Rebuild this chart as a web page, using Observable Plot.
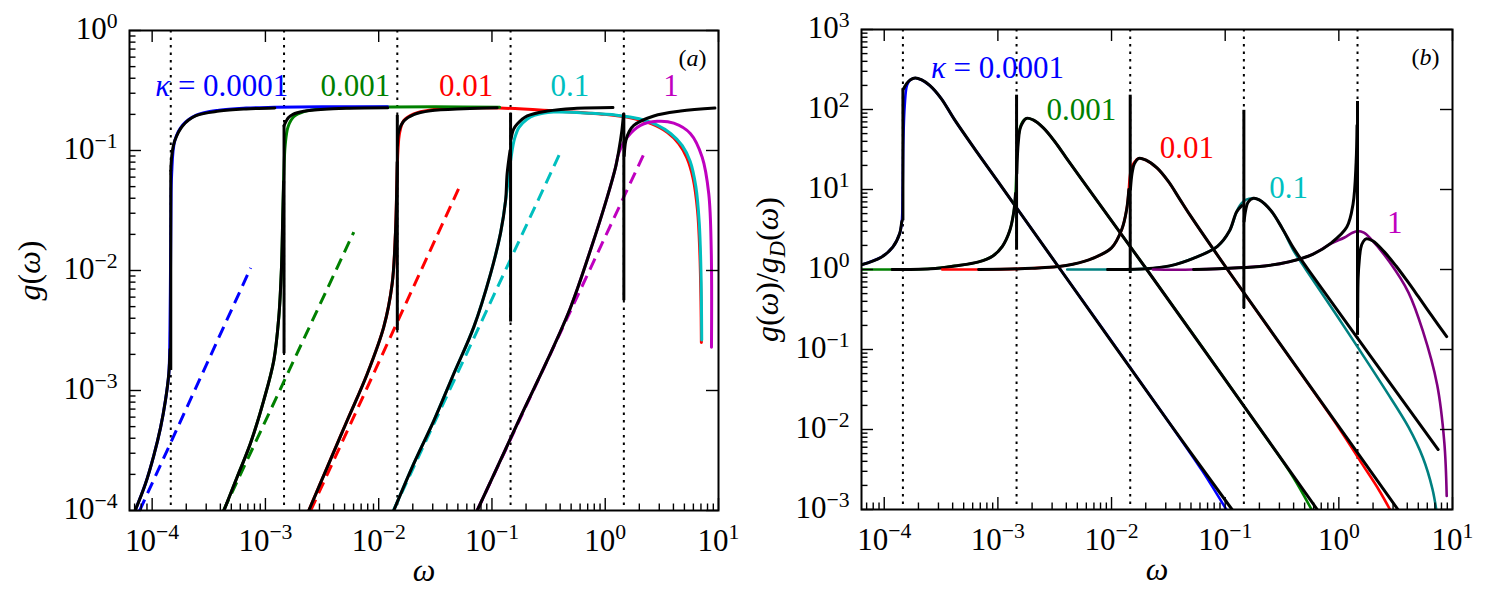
<!DOCTYPE html>
<html>
<head>
<meta charset="utf-8">
<script src="https://cdn.jsdelivr.net/npm/d3@7"></script>
<script src="https://cdn.jsdelivr.net/npm/@observablehq/plot@0.6"></script>
<style>
  html, body { margin: 0; padding: 0; background: #fff; }
  #fig { position: relative; width: 1486px; height: 603px; overflow: hidden; }
</style>
</head>
<body>
<div id="fig"></div>
<script>
// ---------- shared values ----------
const omegaC = [1.46e-4, 1.46e-3, 1.46e-2, 0.146, 1.46];
const kappaText = ["{i:κ} = 0.0001", "0.001", "0.01", "0.1", "1"];
const labelColors = ["#0000ff", "#008000", "#ff0000", "#00bfbf", "#bf00bf"];
const curveColorsB = ["#0000ff", "#008000", "#ff0000", "#008080", "#800080"];

const xTicks = [1e-4, 1e-3, 1e-2, 1e-1, 1e0, 1e1];
const xTickLabels = ["10{^:−4}", "10{^:−3}", "10{^:−2}", "10{^:−1}", "10{^:0}", "10{^:1}"];
const yTicksA = [1e-4, 1e-3, 1e-2, 1e-1, 1e0];
const yTickLabelsA = ["10{^:−4}", "10{^:−3}", "10{^:−2}", "10{^:−1}", "10{^:0}"];
const yTicksB = [1e-3, 1e-2, 1e-1, 1e0, 1e1, 1e2, 1e3];
const yTickLabelsB = ["10{^:−3}", "10{^:−2}", "10{^:−1}", "10{^:0}", "10{^:1}", "10{^:2}", "10{^:3}"];

// ---------- panel (a): g(ω) ----------
// numerical spectra [ω, g]
const numA0 = [[7.08e-5,1.0e-4],[8.71e-5,1.66e-4],[1.035e-4,2.88e-4],[1.186e-4,4.90e-4],[1.312e-4,8.32e-4],[1.403e-4,1.38e-3],[1.436e-4,3.16e-3],[1.452e-4,1.0e-2],[1.466e-4,3.16e-2],[1.486e-4,6.31e-2],[1.585e-4,0.121],[1.862e-4,0.163],[2.455e-4,0.197],[3.89e-4,0.217],[6.76e-4,0.226],[1.20e-3,0.229],[3.16e-3,0.231],[1.20e-2,0.231]];
const numA1 = [[4.30e-4,1.0e-4],[5.64e-4,1.91e-4],[7.38e-4,3.63e-4],[9.68e-4,8.32e-4],[1.186e-3,1.78e-3],[1.312e-3,4.07e-3],[1.387e-3,1.07e-2],[1.422e-3,2.75e-2],[1.452e-3,6.31e-2],[1.496e-3,0.112],[1.585e-3,0.158],[1.778e-3,0.191],[2.19e-3,0.211],[3.24e-3,0.223],[5.13e-3,0.227],[1.20e-2,0.230],[3.16e-2,0.231],[0.117,0.229]];
const numA2 = [[2.415e-3,1.0e-4],[3.51e-3,2.29e-4],[5.27e-3,5.62e-4],[7.93e-3,1.38e-3],[1.109e-2,3.39e-3],[1.315e-2,7.76e-3],[1.406e-2,2.04e-2],[1.445e-2,5.01e-2],[1.479e-2,0.100],[1.531e-2,0.141],[1.667e-2,0.178],[2.04e-2,0.202],[2.86e-2,0.218],[5.64e-2,0.226],[0.1175,0.226],[0.347,0.214],[1.0,0.200],[1.585,0.189],[2.51,0.168],[3.55,0.141],[4.47,0.1135],[5.25,0.0871],[5.96,0.0589],[6.53,0.0316],[6.84,0.0141],[7.00,5.62e-3],[7.06,2.51e-3]];
const numA3 = [[1.358e-2,1.0e-4],[2.04e-2,2.455e-4],[3.07e-2,5.62e-4],[4.60e-2,1.38e-3],[6.92e-2,3.39e-3],[9.70e-2,9.33e-3],[0.1189,2.04e-2],[0.1318,3.80e-2],[0.1413,6.31e-2],[0.1479,8.91e-2],[0.1585,0.126],[0.1734,0.156],[0.204,0.182],[0.2366,0.196],[0.349,0.209],[0.764,0.204],[1.259,0.197],[1.995,0.184],[2.82,0.164],[3.80,0.138],[4.79,0.1096],[5.62,0.0813],[6.31,0.0501],[6.76,0.0251],[7.00,0.0100],[7.11,2.63e-3]];
const numA4 = [[7.41e-2,1.0e-4],[0.1112,2.29e-4],[0.1786,6.03e-4],[0.3076,1.78e-3],[0.4932,4.90e-3],[0.741,1.48e-2],[1.040,4.07e-2],[1.233,7.24e-2],[1.318,9.55e-2],[1.563,0.129],[2.046,0.162],[2.877,0.175],[4.027,0.169],[5.662,0.138],[7.178,0.0879],[8.204,0.0436],[8.63,0.0147],[8.67,2.29e-3]];

// low-frequency Debye asymptotes [ω, g]
const debyeA0 = [[7.76e-5,1.0e-4],[7.41e-4,1.05e-2]];
const debyeA1 = [[4.27e-4,1.0e-4],[6.03e-3,2.09e-2]];
const debyeA2 = [[2.51e-3,1.0e-4],[5.18e-2,5.01e-2]];
const debyeA3 = [[1.35e-2,1.0e-4],[0.409,0.100]];
const debyeA4 = [[7.41e-2,1.0e-4],[2.27,0.100]];

// analytic curves: branch below ω_c, branch above ω_c, jump at ω_c
const leftA0 = [[7.08e-5,1.0e-4],[8.71e-5,1.66e-4],[1.035e-4,2.88e-4],[1.186e-4,4.90e-4],[1.312e-4,8.32e-4],[1.403e-4,1.38e-3],[1.44e-4,2.2e-3]];
const rightA0 = [[1.46e-4,6.8e-2],[1.50e-4,9.5e-2],[1.585e-4,0.121],[1.862e-4,0.161],[2.44e-4,0.195],[3.90e-4,0.213],[6.75e-4,0.222],[1.21e-3,0.226]];
const leftA1 = [[4.30e-4,1.0e-4],[5.64e-4,1.91e-4],[7.38e-4,3.63e-4],[9.68e-4,8.32e-4],[1.186e-3,1.78e-3],[1.312e-3,4.07e-3],[1.387e-3,1.07e-2],[1.422e-3,2.75e-2],[1.45e-3,5.5e-2]];
const rightA1 = [[1.46e-3,0.161],[1.60e-3,0.188],[1.75e-3,0.200],[2.18e-3,0.212],[3.30e-3,0.221],[5.50e-3,0.225],[1.20e-2,0.227]];
const leftA2 = [[2.415e-3,1.0e-4],[3.51e-3,2.29e-4],[5.27e-3,5.62e-4],[7.93e-3,1.38e-3],[1.109e-2,3.39e-3],[1.315e-2,7.76e-3],[1.406e-2,2.04e-2],[1.445e-2,5.0e-2],[1.457e-2,8.0e-2]];
const rightA2 = [[1.465e-2,0.110],[1.507e-2,0.145],[1.667e-2,0.176],[2.04e-2,0.199],[2.86e-2,0.214],[5.64e-2,0.223],[0.111,0.227]];
const leftA3 = [[1.358e-2,1.0e-4],[2.04e-2,2.455e-4],[3.07e-2,5.62e-4],[4.60e-2,1.38e-3],[6.92e-2,3.39e-3],[9.70e-2,9.33e-3],[0.1189,2.04e-2],[0.1318,3.80e-2],[0.1361,6.4e-2],[0.1445,0.100]];
const rightA3 = [[0.1475,0.125],[0.155,0.150],[0.167,0.166],[0.205,0.194],[0.308,0.213],[0.528,0.224],[1.17,0.228]];
const leftA4 = [[7.41e-2,1.0e-4],[0.1112,2.29e-4],[0.1786,6.03e-4],[0.3076,1.78e-3],[0.4932,4.90e-3],[0.741,1.48e-2],[1.040,4.07e-2],[1.233,7.24e-2],[1.318,0.100],[1.40,0.145],[1.45,0.200]];
const rightA4 = [[1.47,0.090],[1.52,0.121],[1.62,0.143],[1.786,0.162],[2.685,0.194],[4.62,0.213],[9.3,0.226]];
const jumpLoA = [1.47e-3, 2.02e-3, 3.16e-3, 3.72e-3, 5.6e-3];
const jumpHiA = [6.8e-2, 0.161, 0.196, 0.204, 0.202];

const kappaAtA = [[4.12e-4,0.282],[6.24e-3,0.282],[5.92e-2,0.282],[0.488,0.282],[3.80,0.282]];

// ---------- panel (b): g(ω)/g_D(ω) ----------
const numB0 = [[6.31e-5,1.148],[9.33e-5,1.413],[1.189e-4,1.905],[1.368e-4,2.818],[1.429e-4,3.98],[1.452e-4,10],[1.472e-4,39.8],[1.514e-4,112],[1.585e-4,200],[1.690e-4,234],[1.871e-4,248],[2.138e-4,234],[2.512e-4,200],[3.162e-4,138],[4.169e-4,74.1],[6.31e-4,31.6],[1.0e-3,12.6],[3.548e-3,1.0],[3.162e-2,1.259e-2],[6.31e-2,3.02e-3],[0.1023,1.0e-3]];
const numB1 = [[6.31e-5,1.0],[1.175e-4,1.0],[2.57e-4,1.023],[4.169e-4,1.109],[6.761e-4,1.245],[9.036e-4,1.479],[1.096e-3,1.95],[1.268e-3,3.02],[1.380e-3,5.25],[1.429e-3,8.91],[1.452e-3,15.8],[1.479e-3,31.6],[1.531e-3,50.1],[1.622e-3,67.6],[1.786e-3,77.6],[2.042e-3,74.1],[2.512e-3,58.9],[3.162e-3,39.8],[3.981e-3,25.1],[5.623e-3,12.6],[2.042e-2,1.0],[0.2512,6.61e-3],[0.3981,2.51e-3],[0.5754,1.0e-3]];
const numB2 = [[3.236e-4,1.0],[6.761e-4,1.0],[1.995e-3,1.035],[3.981e-3,1.122],[6.31e-3,1.318],[1.0e-2,1.862],[1.230e-2,3.162],[1.358e-2,5.623],[1.419e-2,10],[1.445e-2,14.1],[1.496e-2,18.6],[1.585e-2,21.9],[1.738e-2,24.5],[1.995e-2,23.4],[2.512e-2,18.6],[3.162e-2,12.6],[3.981e-2,7.59],[5.012e-2,4.57],[0.1047,1.0],[1.0,1.047e-2],[1.585,3.80e-3],[2.239,1.778e-3],[2.818,1.0e-3]];
const numB3 = [[4.074e-3,1.0],[9.226e-3,1.0],[1.995e-2,1.023],[3.236e-2,1.109],[5.248e-2,1.380],[8.551e-2,1.950],[0.1089,3.02],[0.1259,5.25],[0.1380,6.61],[0.1514,7.41],[0.1766,7.76],[0.1995,7.41],[0.2512,5.50],[0.3162,3.31],[0.3981,1.738],[0.5129,1.0],[0.9594,0.2655],[1.560,9.33e-2],[2.529,3.24e-2],[4.102,1.07e-2],[5.483,4.47e-3],[6.653,1.82e-3],[7.194,1.0e-3]];
const numB4 = [[2.312e-2,1.0],[5.26e-2,1.0],[0.2239,1.109],[0.3631,1.245],[0.5888,1.549],[0.871,2.138],[1.122,2.512],[1.318,2.884],[1.479,3.02],[1.660,2.884],[1.892,2.455],[2.786,1.247],[4.102,0.515],[5.483,0.1706],[7.328,3.63e-2],[8.472,6.92e-3],[8.892,1.48e-3]];

const leftB0 = [[6.31e-5,1.148],[9.33e-5,1.413],[1.189e-4,1.905],[1.368e-4,2.818],[1.429e-4,3.98],[1.439e-4,4.07]];
const rightB0 = [[1.479e-4,182],[1.585e-4,214],[1.690e-4,234],[1.871e-4,248],[2.138e-4,234],[2.512e-4,200],[3.162e-4,138],[4.169e-4,74.1],[6.31e-4,31.6],[1.0e-3,12.6],[3.548e-3,1.0],[3.162e-2,1.259e-2],[0.1148,1.0e-3]];
const leftB1 = [[1.175e-4,1.0],[2.57e-4,1.023],[4.169e-4,1.109],[6.761e-4,1.245],[9.036e-4,1.479],[1.096e-3,1.95],[1.268e-3,3.02],[1.380e-3,5.25],[1.429e-3,8.91]];
const rightB1 = [[1.466e-3,15.8],[1.514e-3,39.8],[1.585e-3,60.3],[1.786e-3,77.6],[2.042e-3,74.1],[2.512e-3,58.9],[3.162e-3,39.8],[3.981e-3,25.1],[5.623e-3,12.6],[2.042e-2,1.0],[0.6457,1.0e-3]];
const leftB2 = [[6.761e-4,1.0],[1.995e-3,1.035],[3.981e-3,1.122],[6.31e-3,1.318],[1.0e-2,1.862],[1.230e-2,3.162],[1.358e-2,5.623],[1.419e-2,10]];
const rightB2 = [[1.466e-2,10],[1.514e-2,15.8],[1.585e-2,20.9],[1.738e-2,24.5],[1.995e-2,23.4],[2.512e-2,18.6],[3.162e-2,12.6],[3.981e-2,7.59],[5.012e-2,4.57],[0.1047,1.0],[3.311,1.0e-3]];
const leftB3 = [[9.226e-3,1.0],[1.995e-2,1.023],[3.236e-2,1.109],[5.248e-2,1.380],[8.551e-2,1.950],[0.1089,3.02],[0.1259,5.25],[0.1400,6.3]];
const rightB3 = [[0.1466,4.0],[0.1514,5.5],[0.1585,6.9],[0.1766,7.76],[0.1995,7.41],[0.2512,5.50],[0.3162,3.31],[0.3981,1.862],[0.537,1.0],[7.482,5.62e-3]];
const leftB4 = [[5.26e-2,1.0],[0.2239,1.109],[0.3631,1.245],[0.5888,1.549],[0.8710,2.188],[1.175,3.388],[1.334,6.61],[1.419,21.9],[1.445,63.1]];
const rightB4 = [[1.466,0.251],[1.479,0.794],[1.514,1.318],[1.560,1.862],[1.641,2.239],[1.750,2.421],[1.995,2.265],[2.512,1.660],[3.162,1.122],[3.981,0.724],[5.012,0.457],[6.653,0.257],[8.892,0.145]];
const jumpLoB = [4.07, 1.74, 0.891, 0.324, 0.150];
const jumpHiB = [182, 151, 151, 97.7, 126];

const kappaAtB = [[9.93e-4,251],[5.42e-3,74.6],[4.6e-2,24.7],[0.3606,7.72],[3.10,2.85]];

// ---------- helpers ----------
const FONT = "'Liberation Serif', 'Times New Roman', serif";
const TXT = 31;
const XDOMAIN = [Math.pow(10, -4.2), 10];
const NS = "http://www.w3.org/2000/svg";

function minorTicks(lo, hi) {
  const out = [];
  for (let e = Math.floor(Math.log10(lo)); e < Math.ceil(Math.log10(hi)); e++)
    for (let m = 2; m <= 9; m++) {
      const v = m * Math.pow(10, e);
      if (v > lo * 1.0001 && v < hi / 1.0001) out.push(v);
    }
  return out;
}

function curve(pts, stroke, extra = {}) {
  return Plot.line(pts, {x: d => d[0], y: d => d[1], stroke, strokeWidth: 3,
    curve: "catmull-rom", clip: true, ...extra});
}

function axesMarks(iw, ih, yDomain, yTicks, yLabels) {
  const s = {stroke: "black", strokeWidth: 1.4};
  const xMinor = minorTicks(XDOMAIN[0], XDOMAIN[1]);
  const yMinor = minorTicks(yDomain[0], yDomain[1]);
  return [
    Plot.tickX(xTicks, {x: d => d, insetTop: ih - 12, ...s}),
    Plot.tickX(xMinor, {x: d => d, insetTop: ih - 6.5, ...s}),
    Plot.tickX(xTicks, {x: d => d, insetBottom: ih - 12, ...s}),
    Plot.tickY(yTicks, {y: d => d, insetRight: iw - 12, ...s}),
    Plot.tickY(yMinor, {y: d => d, insetRight: iw - 6.5, ...s}),
    Plot.tickY(yTicks, {y: d => d, insetLeft: iw - 12, ...s}),
    Plot.text(xTicks, {x: d => d, frameAnchor: "bottom", dy: 40, lineAnchor: "bottom",
      text: (d, i) => xTickLabels[i], fontFamily: FONT, fontSize: TXT, fill: "black"}),
    Plot.text(yTicks, {y: d => d, frameAnchor: "left", dx: -12, dy: -1, textAnchor: "end",
      lineAnchor: "middle", text: (d, i) => yLabels[i], fontFamily: FONT, fontSize: TXT, fill: "black"}),
    Plot.frame({stroke: "black", strokeWidth: 2})
  ];
}

function kappaLabels(at) {
  return kappaText.map((t, i) => Plot.text([t], {x: () => at[i][0], y: () => at[i][1],
    text: d => d, textAnchor: "middle", lineAnchor: "bottom",
    fontFamily: FONT, fontSize: TXT, fill: labelColors[i]}));
}

function titleMarks(yLabel, yDx, tag, tagDx) {
  return [
    Plot.text(["{i:ω}"], {frameAnchor: "bottom", dy: 70, lineAnchor: "bottom", text: d => d,
      fontFamily: FONT, fontSize: 32, fill: "black"}),
    Plot.text([yLabel], {frameAnchor: "left", dx: yDx, rotate: -90, textAnchor: "middle",
      lineAnchor: "bottom", text: d => d, fontFamily: FONT, fontSize: 32, fill: "black"}),
    Plot.text([tag], {frameAnchor: "top-right", dx: tagDx, dy: 35, textAnchor: "end",
      lineAnchor: "bottom", text: d => d, fontFamily: FONT, fontSize: 24, fill: "black"})
  ];
}

// turn {i:..} italic, {^:..} superscript, {_:..} subscript markup into tspans
function applyRich(svg) {
  for (const t of svg.querySelectorAll("text")) {
    const src = t.textContent;
    if (!src.includes("{")) continue;
    const fs = parseFloat(getComputedStyle(t).fontSize) || TXT;
    t.textContent = "";
    let shift = 0;
    for (const m of src.matchAll(/\{([i_^]):([^}]*)\}|([^{]+)/g)) {
      const span = document.createElementNS(NS, "tspan");
      let target = 0;
      if (m[3] !== undefined) {
        span.textContent = m[3];
      } else {
        span.textContent = m[2];
        if (m[1] === "i") span.setAttribute("font-style", "italic");
        else {
          span.setAttribute("font-size", (fs * 0.7).toFixed(1));
          if (m[1] === "^") target = -0.37 * fs;
          else { target = 0.22 * fs; span.setAttribute("font-style", "italic"); }
        }
      }
      if (target !== shift) { span.setAttribute("dy", (target - shift).toFixed(1)); shift = target; }
      t.appendChild(span);
    }
  }
}

function place(svg, left) {
  Object.assign(svg.style, {position: "absolute", left: left + "px", top: "0px",
    overflow: "visible", background: "transparent", maxWidth: "none"});
  document.getElementById("fig").appendChild(svg);
  applyRich(svg);
}

const dotted = {x: d => d, stroke: "black", strokeWidth: 2, strokeDasharray: "2.5,5", strokeLinecap: "butt"};

// ---------- panel (a) ----------
{
  const numA = [numA0, numA1, numA2, numA3, numA4];
  const debyeA = [debyeA0, debyeA1, debyeA2, debyeA3, debyeA4];
  const leftA = [leftA0, leftA1, leftA2, leftA3, leftA4];
  const rightA = [rightA0, rightA1, rightA2, rightA3, rightA4];
  const yDomain = [1e-4, 1];
  const order = [2, 3, 1, 0, 4];
  const svg = Plot.plot({
    width: 740, height: 603,
    marginLeft: 129, marginRight: 22, marginTop: 30, marginBottom: 93,
    x: {type: "log", domain: XDOMAIN, axis: null},
    y: {type: "log", domain: yDomain, axis: null},
    marks: [
      Plot.ruleX(omegaC, dotted),
      ...order.map(k => curve(numA[k], labelColors[k])),
      ...debyeA.map((d, k) => curve(d, labelColors[k], {curve: "linear", strokeDasharray: "12,7", strokeLinecap: "butt"})),
      ...leftA.map(d => curve(d, "black")),
      ...rightA.map(d => curve(d, "black")),
      Plot.ruleX(omegaC, {x: d => d, y1: (d, i) => jumpLoA[i], y2: (d, i) => jumpHiA[i], stroke: "black", strokeWidth: 3}),
      ...kappaLabels(kappaAtA),
      ...axesMarks(589, 480, yDomain, yTicksA, yTickLabelsA),
      ...titleMarks("{i:g}({i:ω})", -90, "({i:a})", -12)
    ]
  });
  place(svg, 0);
}

// ---------- panel (b) ----------
{
  const numB = [numB0, numB1, numB2, numB3, numB4];
  const leftB = [leftB0, leftB1, leftB2, leftB3, leftB4];
  const rightB = [rightB0, rightB1, rightB2, rightB3, rightB4];
  const yDomain = [1e-3, 1e3];
  const perKappa = [];
  for (let k = 0; k < 5; k++) {
    perKappa.push(curve(numB[k], curveColorsB[k], {strokeWidth: 2.6}));
    perKappa.push(curve(leftB[k], "black"));
    perKappa.push(curve(rightB[k], "black"));
    perKappa.push(Plot.ruleX([omegaC[k]], {x: d => d, y1: () => jumpLoB[k], y2: () => jumpHiB[k], stroke: "black", strokeWidth: 3}));
  }
  const svg = Plot.plot({
    width: 746, height: 603,
    marginLeft: 121, marginRight: 34, marginTop: 29, marginBottom: 94,
    x: {type: "log", domain: XDOMAIN, axis: null},
    y: {type: "log", domain: yDomain, axis: null},
    marks: [
      Plot.ruleX(omegaC, dotted),
      ...perKappa,
      ...kappaLabels(kappaAtB),
      ...axesMarks(591, 480, yDomain, yTicksB, yTickLabelsB),
      ...titleMarks("{i:g}({i:ω})/{i:g}{_:D}({i:ω})", -84, "({i:b})", -13)
    ]
  });
  place(svg, 740);
}
</script>
</body>
</html>
